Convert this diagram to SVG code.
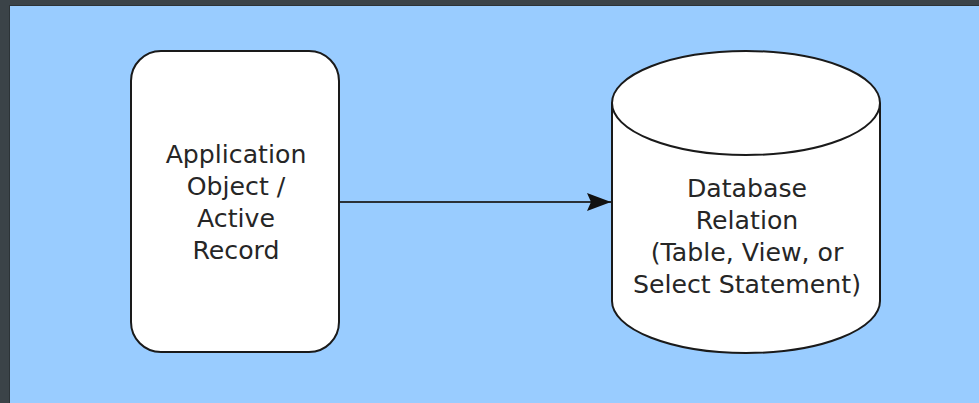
<svg xmlns="http://www.w3.org/2000/svg" width="979" height="403" viewBox="0 0 979 403">
  <style>
    .shape { fill: #ffffff; stroke: #1a1a1a; stroke-width: 2; }
    .label { font-family: "DejaVu Sans", sans-serif; font-size: 25.2px; fill: #262626; text-anchor: middle; }
    .edge { stroke: #2a3138; stroke-width: 2; fill: none; }
  </style>
  <defs>
    <marker id="arrow" markerWidth="26" markerHeight="20" refX="24" refY="10" orient="auto" markerUnits="userSpaceOnUse">
      <path d="M0,1 L24,10 L0,19 L4,10 Z" fill="#111111"/>
    </marker>
  </defs>

  <!-- frame and canvas -->
  <rect x="0" y="0" width="979" height="403" fill="#3b4348"/>
  <rect x="9" y="5" width="970" height="398" fill="#2c3337"/>
  <rect x="10" y="6" width="969" height="397" fill="#99ccff"/>

  <g id="connectors">
    <line class="edge" x1="340" y1="202" x2="611" y2="202" marker-end="url(#arrow)"/>
  </g>

  <g id="app-object">
    <rect class="shape" x="131" y="51" width="208" height="301" rx="30" ry="30"/>
    <text class="label" x="236" y="163">Application</text>
    <text class="label" x="236" y="195">Object /</text>
    <text class="label" x="236" y="227">Active</text>
    <text class="label" x="236" y="259">Record</text>
  </g>

  <g id="database">
    <path class="shape" d="M612,103 A134,52 0 0 1 880,103 L880,301 A134,52 0 0 1 612,301 Z"/>
    <path class="shape" fill="none" d="M612,103 A134,52 0 0 0 880,103"/>
    <text class="label" x="747" y="197">Database</text>
    <text class="label" x="747" y="229">Relation</text>
    <text class="label" x="747" y="261">(Table, View, or</text>
    <text class="label" x="747" y="293">Select Statement)</text>
  </g>
</svg>
